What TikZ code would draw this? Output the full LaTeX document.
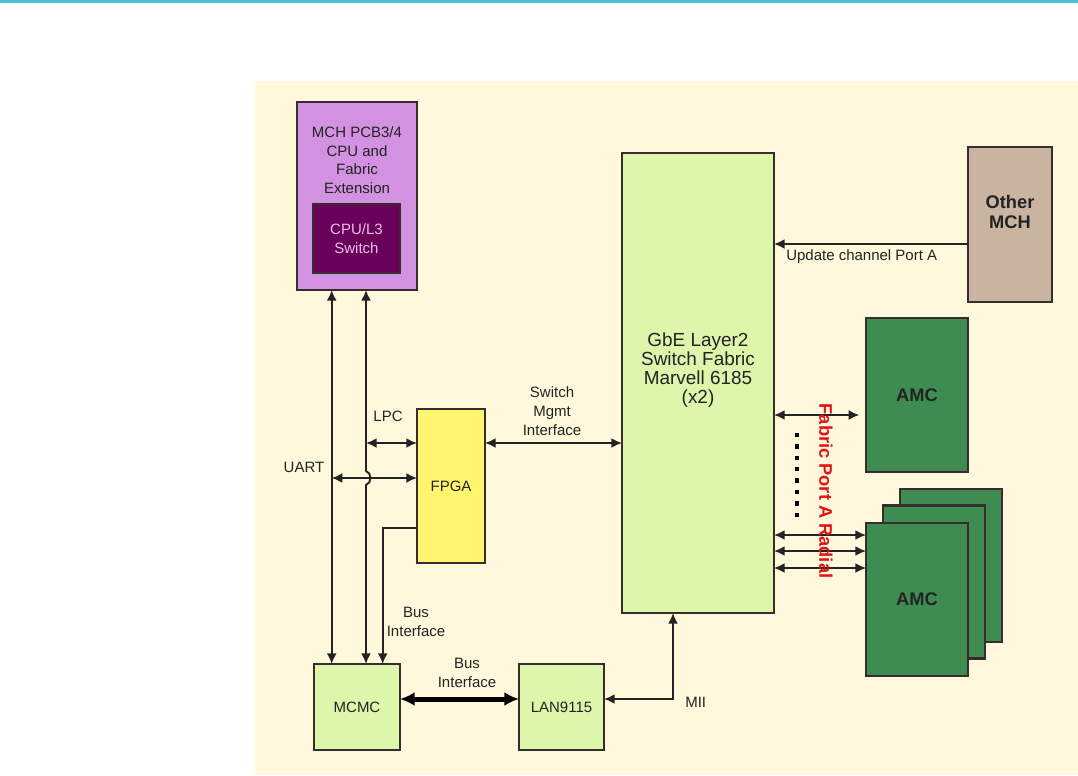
\documentclass[tikz,border=0pt]{standalone}
\usepackage{fontspec}
\setmainfont{Liberation Sans}
\usetikzlibrary{arrows.meta}
\definecolor{topline}{RGB}{72,192,213}
\definecolor{panel}{RGB}{255,248,220}
\definecolor{ink}{RGB}{35,35,35}
\definecolor{edge}{RGB}{55,45,45}
\definecolor{mchviolet}{RGB}{210,145,225}
\definecolor{cpupurple}{RGB}{105,0,90}
\definecolor{cpupink}{RGB}{240,190,235}
\definecolor{fpgayellow}{RGB}{255,245,110}
\definecolor{swgreen}{RGB}{222,246,172}
\definecolor{othertan}{RGB}{200,180,160}
\definecolor{amcgreen}{RGB}{62,140,82}
\definecolor{fabred}{RGB}{225,20,20}
\tikzset{
  box/.style={draw=edge,line width=1.8pt,inner sep=0pt,outer sep=0pt,align=center,text=ink,
    font=\fontsize{11.25}{14}\selectfont},
  sz/.style 2 args={minimum width=#1*0.75pt,minimum height=#2*0.75pt},
  lbl/.style={align=center,text=ink,inner sep=0pt,font=\fontsize{11.25}{14}\selectfont},
  bold/.style={font=\fontsize{13.7}{15}\selectfont\bfseries},
  link/.style={draw=ink,line width=1.4pt,>={Latex[length=8pt,width=7.5pt]}},
  buslink/.style={draw=black,line width=3.75pt,>={Latex[length=11pt,width=10.5pt]}}
}
\begin{document}
\begin{tikzpicture}[x=0.75pt,y=-0.75pt]
  \useasboundingbox (0,0) rectangle (1078,775);
  \fill[topline] (0,0) rectangle (1078,2.5);
  \fill[panel] (255,81) rectangle (1078,775);

  % boxes
  \node[box,sz={120}{188},fill=mchviolet] (mch) at (357,196) {};
  \node[lbl] (mchtxt) at (357,160) {MCH PCB3/4\\CPU and\\Fabric\\Extension};
  \node[box,sz={87}{69},fill=cpupurple,text=cpupink] (cpu) at (356.5,238.5) {CPU/L3\\Switch};
  \node[box,sz={68}{154},fill=fpgayellow] (fpga) at (451,486) {FPGA};
  \node[box,sz={152}{460},fill=swgreen] (sw) at (698,383) {};
  \node[lbl,font=\fontsize{14.2}{14.25}\selectfont] (swtxt) at (698,370) {GbE Layer2\\Switch Fabric\\Marvell 6185\\(x2)};
  \node[box,sz={86}{86},fill=swgreen] (mcmc) at (357,707) {MCMC};
  \node[box,sz={85}{86},fill=swgreen] (lan) at (561.5,707) {LAN9115};
  \node[box,sz={84}{155},fill=othertan] (other) at (1010,224.5) {};
  \node[lbl,bold] (othertxt) at (1010,212) {Other\\MCH};
  \node[box,sz={102}{154},fill=amcgreen,bold] (amca) at (917,395) {AMC};
  \node[box,sz={102}{153},fill=amcgreen] (amcd) at (951,565.5) {};
  \node[box,sz={102}{153},fill=amcgreen] (amcc) at (934,582) {};
  \node[box,sz={102}{153},fill=amcgreen,bold] (amcb) at (917,599.5) {AMC};

  % levels
  \coordinate (uartx) at (331.7,0);
  \coordinate (jmpa) at (366,471);
  \coordinate (jmpb) at (366,485);
  \coordinate (lpcy) at (0,443);
  \coordinate (uarty) at (0,478);
  \coordinate (busy) at (382.7,528);
  \coordinate (mii) at (673,699);
  \coordinate (upd) at (0,244);

  % links
  \draw[link,<->] (mch.south -| uartx) -- (mcmc.north -| uartx);
  \draw[link,<->] (mch.south -| jmpa) -- (jmpa) .. controls +(6,2) and +(6,-2) .. (jmpb) -- (mcmc.north -| jmpb);
  \draw[link,<->] (jmpa |- lpcy) -- (fpga.west |- lpcy);
  \draw[link,<->] (uartx |- uarty) -- (fpga.west |- uarty);
  \draw[link,->] (fpga.west |- busy) -| (mcmc.north -| busy);
  \draw[link,<->] (fpga.east |- lpcy) -- (sw.west |- lpcy);
  \draw[link,<->] (sw.south -| mii) |- (lan.east |- mii);
  \draw[buslink,<->] (mcmc.east |- mii) -- (lan.west |- mii);
  \draw[link,->] (other.west |- upd) -- (sw.east |- upd);
  \draw[link,<->,shorten >=5pt] (sw.east |- 0,415) -- (amca.west |- 0,415);
  \foreach \y in {535,551,568}
    \draw[link,<->] (sw.east |- 0,\y) -- (amcb.west |- 0,\y);
  \foreach \i in {0,...,7}
    \fill[black] (794.5,432.8+\i*11.4) rectangle ++(4.4,4.4);

  % labels
  \node[lbl] (lpctxt) at (388,416) {LPC};
  \node[lbl] (uarttxt) at (304,467) {UART};
  \node[lbl] (mgmttxt) at (552,411) {Switch\\Mgmt\\Interface};
  \node[lbl] (bustxta) at (416,622) {Bus\\Interface};
  \node[lbl] (bustxtb) at (467,673) {Bus\\Interface};
  \node[lbl,anchor=west] (miitxt) at (685,702) {MII};
  \node[lbl,anchor=west] (updtxt) at (786,257) {Update channel Port A};
  \node[bold,text=fabred,rotate=-90,inner sep=0pt] (fabtxt) at (826,491) {Fabric Port A Radial};
\end{tikzpicture}
\end{document}
